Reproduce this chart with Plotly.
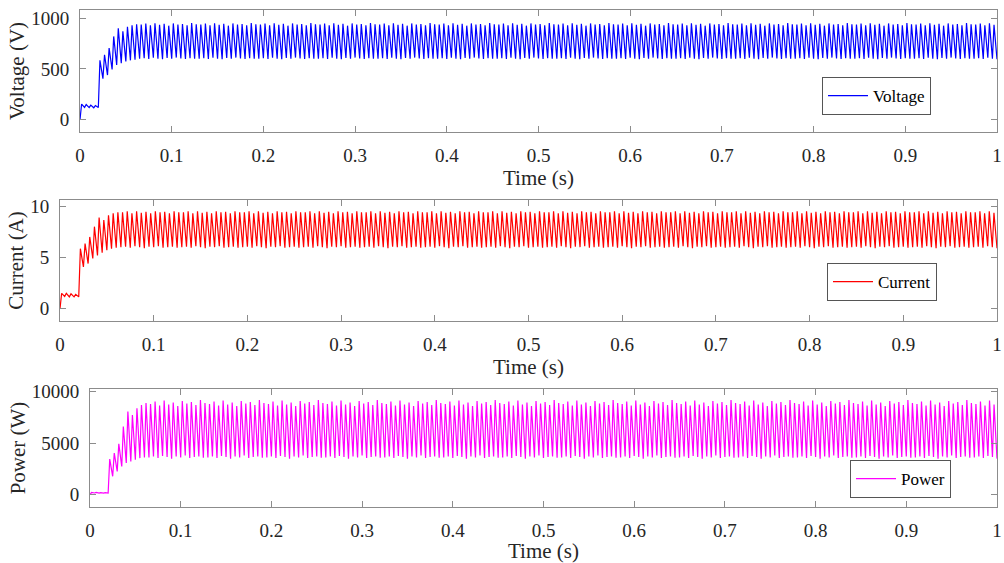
import plotly.graph_objects as go

# ---------------- data ----------------
PERIOD = 0.005          # one ripple cycle (s)
N_CYCLES = 200          # cycles over 0..1 s
RISE = 0.35             # fraction of a cycle spent rising

# Voltage (V): per-cycle trough (cycle start) and peak
v_trans_troughs = [0, 122, 120, 118, 120, 405, 440, 495, 540, 556, 573, 585, 592]
v_trans_peaks   = [155, 150, 145, 140, 585, 640, 705, 820, 900, 870, 915, 930, 940]
v_ss_troughs = [600, 606, 598, 610, 602, 596, 608, 600, 612, 604, 598, 606, 600]
v_ss_peaks   = [938, 946, 930, 950, 934, 944, 926, 948, 936, 942, 930, 952, 940]

# Current (A)
i_trans_troughs = [0, 1.2, 1.15, 1.15, 1.15, 4.07, 4.4, 4.9, 5.2, 5.45, 5.7, 5.85, 5.95]
i_trans_peaks   = [1.5, 1.5, 1.45, 1.4, 5.85, 6.35, 7.0, 8.0, 8.9, 8.65, 9.1, 9.3, 9.4]
i_ss_troughs = [6.0, 6.05, 5.95, 6.1, 6.0, 5.9, 6.05, 6.0, 6.1, 5.95, 6.0, 6.05, 5.95]
i_ss_peaks   = [9.4, 9.5, 9.3, 9.5, 9.35, 9.45, 9.3, 9.5, 9.4, 9.45, 9.3, 9.5, 9.4]

# Power (W)
p_trans_troughs = [0, 160, 150, 150, 150, 1780, 2260, 2740, 3070, 3230, 3390, 3550, 3600]
p_trans_peaks   = [220, 210, 200, 190, 3450, 4030, 4940, 6610, 8070, 7740, 8390, 8710, 8900]
p_ss_troughs = [3600, 3700, 3550, 3750, 3650, 3500, 3700, 3600, 3800, 3550, 3650, 3700, 3580]
p_ss_peaks   = [8800, 9050, 8650, 9150, 8750, 8950, 8600, 9100, 8850, 9000, 8700, 9200, 8900]

x_ticks = [0, 0.1, 0.2, 0.3, 0.4, 0.5, 0.6, 0.7, 0.8, 0.9, 1]
x_tick_labels = ["0", "0.1", "0.2", "0.3", "0.4", "0.5", "0.6", "0.7", "0.8", "0.9", "1"]
v_ticks = [0, 500, 1000]
i_ticks = [0, 5, 10]
p_ticks = [0, 5000, 10000]


def build(trans_troughs, trans_peaks, ss_troughs, ss_peaks):
    t, y = [], []
    n = len(trans_peaks)
    for k in range(N_CYCLES):
        if k < n:
            lo, hi = trans_troughs[k], trans_peaks[k]
        else:
            j = (k - n) % len(ss_peaks)
            lo, hi = ss_troughs[j], ss_peaks[j]
        t += [k * PERIOD, (k + RISE) * PERIOD]
        y += [lo, hi]
    t.append(N_CYCLES * PERIOD)
    y.append(ss_troughs[(N_CYCLES - n) % len(ss_troughs)])
    return t, y


tv, vv = build(v_trans_troughs, v_trans_peaks, v_ss_troughs, v_ss_peaks)
ti, ii = build(i_trans_troughs, i_trans_peaks, i_ss_troughs, i_ss_peaks)
tp, pp = build(p_trans_troughs, p_trans_peaks, p_ss_troughs, p_ss_peaks)

W, H = 1004, 563
RIGHT = 997
FONT = "Liberation Serif, Times New Roman, serif"
AX_COL = "#8c8c8c"
TXT = "#262626"

fig = go.Figure()
fig.add_trace(go.Scatter(x=tv, y=vv, mode="lines", name="Voltage",
                         line=dict(color="#0000FF", width=1.2),
                         xaxis="x", yaxis="y", legend="legend"))
fig.add_trace(go.Scatter(x=ti, y=ii, mode="lines", name="Current",
                         line=dict(color="#FF0000", width=1.2),
                         xaxis="x2", yaxis="y2", legend="legend2"))
fig.add_trace(go.Scatter(x=tp, y=pp, mode="lines", name="Power",
                         line=dict(color="#FF00FF", width=1.2),
                         xaxis="x3", yaxis="y3", legend="legend3"))


def xa(left, anchor):
    return dict(domain=[left / W, RIGHT / W], anchor=anchor, range=[0, 1],
                tickvals=x_ticks, ticktext=x_tick_labels, automargin=False,
                ticklabeloverflow="allow",
                ticks="inside", ticklen=6, tickcolor=AX_COL,
                showline=True, linecolor=AX_COL, linewidth=1, mirror="ticks",
                showgrid=False, zeroline=False, ticklabelstandoff=6,
                tickfont=dict(family=FONT, size=19, color=TXT),
                title=dict(text="Time (s)", standoff=4,
                           font=dict(family=FONT, size=21, color=TXT)))


def ya(top, bottom, rng, tv_, title, anchor, standoff):
    return dict(domain=[1 - bottom / H, 1 - top / H], anchor=anchor, range=rng,
                tickvals=tv_, ticktext=[str(v) for v in tv_], automargin=False,
                ticklabeloverflow="allow",
                ticks="inside", ticklen=6, tickcolor=AX_COL,
                showline=True, linecolor=AX_COL, linewidth=1, mirror="ticks",
                showgrid=False, zeroline=False, ticklabelstandoff=6,
                tickfont=dict(family=FONT, size=19, color=TXT),
                title=dict(text=title, standoff=standoff,
                           font=dict(family=FONT, size=21, color=TXT)))


def lg(x, y):
    return dict(x=x / W, y=1 - y / H, xanchor="left", yanchor="top",
                bgcolor="white", bordercolor="#555555", borderwidth=1,
                itemwidth=40, tracegroupgap=0,
                font=dict(family=FONT, size=17, color="black"))


fig.update_layout(
    width=W, height=H, margin=dict(l=0, r=0, t=0, b=0),
    paper_bgcolor="white", plot_bgcolor="white",
    xaxis=xa(80, "y"), xaxis2=xa(60, "y2"), xaxis3=xa(90, "y3"),
    yaxis=ya(10, 132, [-120, 1080], v_ticks, "Voltage (V)", "x", 0),
    yaxis2=ya(200, 321, [-1.2, 10.6], i_ticks, "Current (A)", "x2", 0),
    yaxis3=ya(389, 507, [-1200, 10260], p_ticks, "Power (W)", "x3", 0),
    legend=lg(822, 77), legend2=lg(827, 263), legend3=lg(850, 460),
    showlegend=True,
)

fig.write_html("out.html")
